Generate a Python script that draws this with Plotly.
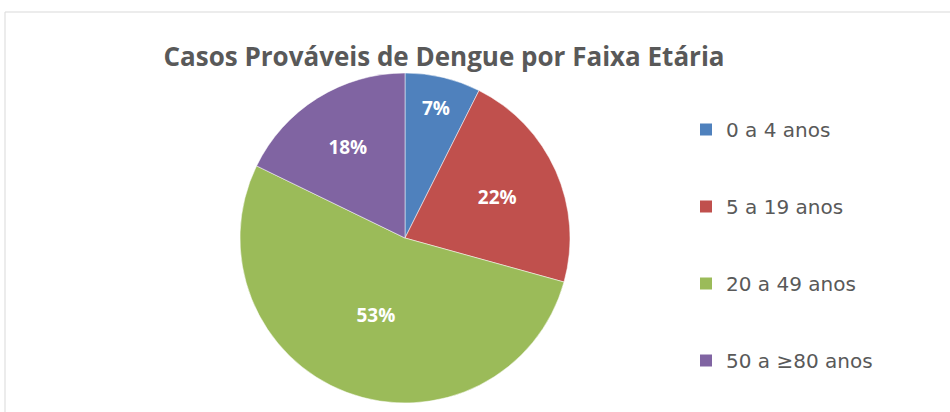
import plotly.graph_objects as go

categories = ["0 a 4 anos", "5 a 19 anos", "20 a 49 anos", "50 a ≥80 anos"]
shares = [7.4, 21.9, 52.9, 17.8]
colors = ["#4F81BD", "#C0504D", "#9BBB59", "#8064A2"]
title_text = "Casos Prováveis de Dengue por Faixa Etária"

W, H = 950, 412
cx, cy, r = 405, 238, 165

fig = go.Figure()
fig.add_trace(go.Pie(
    labels=categories, values=shares, sort=False, direction="clockwise", rotation=0,
    marker=dict(colors=colors, line=dict(color="white", width=0.5)),
    textinfo="percent", texttemplate="%{percent:.0%}", textposition="inside",
    insidetextorientation="horizontal",
    textfont=dict(family="Open Sans", size=19, color="white", weight="bold"),
    showlegend=False,
    domain=dict(x=[(cx - r) / W, (cx + r) / W], y=[(H - cy - r) / H, (H - cy + r) / H]),
))
for i, (name, col) in enumerate(zip(categories, colors)):
    fig.add_trace(go.Scatter(
        x=[None], y=[None], mode="markers", name=name,
        marker=dict(symbol="square", size=12, color=col),
        legendgroup=f"g{i}", showlegend=True,
    ))

fig.update_layout(
    width=W, height=H, margin=dict(l=0, r=0, t=0, b=0),
    paper_bgcolor="white", plot_bgcolor="white",
    title=dict(text=title_text, x=444 / W, xanchor="center", y=1 - 57 / H, yanchor="middle",
               font=dict(family="Open Sans", size=26, color="#595959", weight="bold")),
    xaxis=dict(visible=False), yaxis=dict(visible=False),
    legend=dict(x=686 / W, xanchor="left", y=1 - 110 / H, yanchor="top",
                font=dict(family="DejaVu Sans", size=20, color="#595959"),
                tracegroupgap=48, bgcolor="rgba(0,0,0,0)"),
    shapes=[dict(type="rect", xref="paper", yref="paper", x0=5 / W, x1=1.05,
                 y0=-0.05, y1=1 - 12 / H, line=dict(color="#D9D9D9", width=1))],
)
fig.write_html("out.html")
